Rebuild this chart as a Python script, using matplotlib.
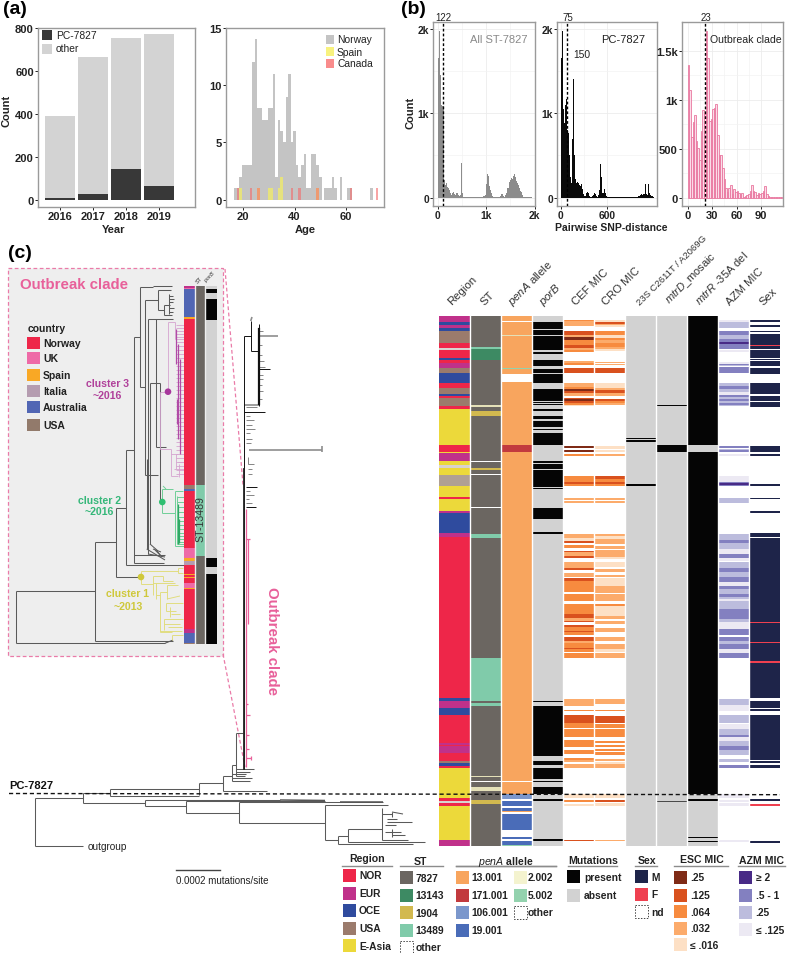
import numpy as np
import matplotlib
matplotlib.use("Agg")
import matplotlib.pyplot as plt
from matplotlib.collections import LineCollection
from matplotlib.colors import ListedColormap
from matplotlib.patches import Rectangle, Circle

plt.rcParams["font.family"] = ["Liberation Sans", "DejaVu Sans"]
plt.rcParams["mathtext.fontset"] = "custom"
plt.rcParams["mathtext.it"] = "Liberation Sans:italic"
plt.rcParams["mathtext.rm"] = "Liberation Sans"

W, H = 787, 954

# panel (a)
years = [2016, 2017, 2018, 2019]
pc_counts = [8, 28, 146, 65]
total_counts = [390, 663, 752, 772]
ages = list(range(17, 73))
norway_age = [1, 1, 2, 3, 3, 3, 3, 12, 14, 8, 8, 7, 7, 8, 8, 11, 2, 7, 6, 5, 9, 11, 5, 6, 3, 2,
              3, 4, 1, 1, 4, 4, 3, 2, 0, 1, 1, 1, 2, 1, 0, 2, 0, 0, 1, 1, 0, 0, 0, 0, 0, 0, 0, 1, 0, 0]
spain_age = {19: 1, 26: 1, 30: 1, 31: 1, 34: 1, 35: 2, 49: 1}
canada_age = {18: 1, 23: 1, 26: 1, 39: 1, 42: 1, 49: 1, 62: 1, 72: 1}

# panel (b)
all_st_hist = [1650, 1970, 1450, 1100, 1090, 1080, 700, 210, 150, 170, 130, 110, 90, 60, 30, 60, 70, 40, 30, 50,
               60, 30, 20, 30, 410, 60, 10, 10, 8, 8, 8, 8, 8, 8, 8, 8, 8, 8, 8, 8,
               8, 8, 8, 8, 8, 8, 10, 15, 20, 30, 160, 280, 260, 140, 90, 60, 20, 10, 8, 8,
               8, 8, 8, 10, 20, 40, 40, 20, 10, 30, 60, 110, 120, 160, 190, 210, 230, 220, 260, 280,
               240, 200, 170, 150, 110, 80, 70, 30, 10, 8, 8, 8, 8, 8, 8, 10, 5]
pc_hist = [1650, 1970, 1420, 1050, 880, 1100, 1170, 800, 760, 500, 250, 170, 700, 1400, 1250, 500, 220, 180, 190, 170,
           150, 140, 160, 100, 40, 20, 20, 30, 60, 70, 50, 20, 10, 10, 20, 30, 50, 40, 20, 10,
           10, 30, 90, 400, 250, 60, 60, 100, 50, 20, 10, 8, 8, 8, 8, 8, 8, 8, 8, 8,
           8, 8, 8, 8, 8, 8, 8, 8, 8, 8, 8, 8, 8, 8, 8, 8, 8, 8, 8, 8,
           8, 8, 10, 12, 15, 20, 30, 40, 30, 40, 50, 40, 160, 40, 30, 160, 60, 30, 20, 15, 8]
outbreak_hist = [1350, 1100, 620, 770, 840, 580, 510, 380, 680, 890, 850, 1700, 1430, 780, 800, 910, 920, 960, 640, 440,
                 440, 300, 190, 100, 60, 100, 130, 40, 90, 60, 70, 50, 40, 50, 10, 20, 30, 40, 70, 130,
                 70, 60, 30, 50, 40, 50, 70, 120, 40, 20, 10, 8, 6, 5, 5, 4, 3, 3]

# panel (c) heatmap, runs of (first row, category)
n_rows = 530
region_runs = [(0, "EUR"), (6, "OCE"), (9, "EUR"), (12, "OCE"), (15, "USA"), (27, "NOR"), (32, "GRY"), (34, "NOR"),
               (42, "OCE"), (44, "NOR"), (47, "EUR"), (52, "USA"), (57, "OCE"), (67, "NOR"), (72, "USA"), (78, "OCE"),
               (80, "NOR"), (82, "USA"), (90, "NOR"), (93, "EAS"), (129, "NOR"), (136, "EAS"), (137, "EUR"),
               (145, "EAS"), (149, "GRY"), (152, "EAS"), (159, "USL"), (170, "EAS"), (181, "NOR"), (183, "EAS"),
               (195, "EUR"), (197, "OCE"), (217, "EUR"), (221, "NOR"), (382, "OCE"), (385, "EUR"), (392, "OCE"),
               (399, "NOR"), (427, "EUR"), (429, "NOR"), (430, "EUR"), (437, "NOR"), (445, "USA"), (447, "OCE"),
               (450, "NOR"), (452, "EAS"), (482, "NOR"), (485, "GRY"), (487, "NOR"), (490, "EAS"), (524, "EUR")]
st_runs = [(0, "7827"), (31, "13489"), (33, "13143"), (44, "7827"), (89, "1904L"), (91, "7827"), (95, "1904"),
           (100, "7827"), (145, "w"), (146, "7827"), (152, "1904"), (154, "7827"), (158, "w"), (159, "7827"),
           (191, "w"), (192, "7827"), (218, "13489"), (222, "7827"), (342, "13489"), (385, "7827"), (387, "13489"),
           (390, "7827"), (460, "1904L"), (461, "7827"), (465, "w"), (466, "7827"), (471, "1904L"), (475, "7827"),
           (484, "1904"), (488, "7827")]
pena_runs = [(0, "13"), (5, "w"), (6, "13"), (19, "1904L"), (20, "13"), (52, "5"), (53, "13"), (58, "w"), (66, "13"),
             (129, "171"), (136, "13"), (465, "w"), (466, "13"), (478, "106"), (483, "w"), (485, "19"), (490, "w"),
             (492, "19"), (495, "13"), (496, "w"), (498, "19"), (514, "w"), (521, "19"), (523, "w"), (525, "19"),
             (529, "5")]
porb_runs = [(0, "abs"), (6, "pre"), (13, "abs"), (14, "pre"), (19, "abs"), (20, "pre"), (34, "abs"), (36, "pre"),
             (38, "abs"), (44, "pre"), (50, "abs"), (53, "pre"), (57, "abs"), (58, "pre"), (67, "abs"), (73, "pre"),
             (85, "abs"), (86, "pre"), (87, "abs"), (88, "pre"), (89, "abs"), (93, "pre"), (95, "abs"), (100, "pre"),
             (103, "abs"), (105, "pre"), (111, "abs"), (113, "pre"), (114, "abs"), (117, "pre"), (129, "abs"),
             (145, "pre"), (147, "abs"), (148, "pre"), (153, "abs"), (154, "pre"), (171, "abs"), (172, "pre"),
             (173, "abs"), (192, "pre"), (203, "abs"), (216, "pre"), (218, "abs"), (385, "pre"), (386, "abs"),
             (390, "pre"), (440, "abs"), (445, "pre"), (449, "abs"), (452, "pre"), (463, "abs"), (465, "pre"),
             (466, "abs"), (471, "pre"), (478, "abs"), (483, "pre"), (485, "abs"), (523, "pre"), (525, "abs")]
cef_runs = [(0, "w"), (4, "c"), (5, "d"), (10, "w"), (15, "b"), (19, "d"), (21, "a"), (24, "c"), (29, "b"), (32, "d"),
            (34, "c"), (36, "w"), (45, "d"), (47, "c"), (49, "w"), (52, "b"), (57, "w"), (67, "d"), (71, "c"), (73, "a"),
            (75, "b"), (77, "d"), (80, "w"), (82, "b"), (83, "a"), (85, "b"), (87, "c"), (89, "e"), (90, "w"),
            (130, "a"), (132, "w"), (134, "a"), (136, "w"), (138, "c"), (140, "w"), (160, "c"), (166, "b"), (168, "c"),
            (170, "w"), (182, "d"), (184, "w"), (185, "d"), (187, "w"), (218, "d"), (222, "e"), (225, "b"), (227, "w"),
            (229, "c"), (232, "w"), (235, "b"), (236, "d"), (240, "b"), (242, "w"), (246, "d"), (252, "b"), (254, "w"),
            (257, "d"), (261, "w"), (262, "b"), (265, "c"), (276, "w"), (278, "c"), (285, "w"), (288, "c"), (298, "b"),
            (302, "d"), (305, "b"), (306, "w"), (309, "b"), (311, "c"), (315, "b"), (316, "c"), (319, "w"), (321, "b"),
            (325, "d"), (327, "c"), (332, "b"), (333, "c"), (336, "w"), (337, "c"), (342, "w"), (383, "d"), (390, "w"),
            (394, "c"), (395, "w"), (399, "b"), (407, "c"), (412, "w"), (413, "c"), (421, "w"), (424, "c"), (431, "w"),
            (434, "c"), (438, "w"), (442, "c"), (444, "d"), (446, "w"), (448, "d"), (452, "w"), (478, "e"), (482, "w"),
            (484, "c"), (486, "w"), (488, "e"), (490, "w"), (524, "b"), (525, "w")]
cro_runs = [(0, "w"), (4, "e"), (6, "b"), (8, "d"), (9, "e"), (11, "w"), (15, "c"), (19, "e"), (22, "c"), (24, "d"),
            (27, "c"), (31, "d"), (33, "e"), (35, "w"), (46, "d"), (47, "w"), (48, "d"), (49, "w"), (52, "b"), (57, "w"),
            (67, "e"), (72, "d"), (74, "b"), (77, "d"), (80, "w"), (83, "b"), (85, "c"), (87, "d"), (89, "w"),
            (130, "e"), (133, "w"), (134, "e"), (136, "w"), (138, "d"), (140, "w"), (160, "b"), (163, "c"), (166, "b"),
            (168, "c"), (170, "w"), (182, "d"), (184, "w"), (185, "d"), (187, "w"), (218, "d"), (220, "e"), (223, "d"),
            (228, "w"), (230, "d"), (233, "w"), (234, "d"), (241, "e"), (243, "w"), (246, "e"), (251, "w"), (253, "d"),
            (256, "w"), (259, "d"), (261, "w"), (262, "e"), (270, "d"), (277, "w"), (278, "d"), (285, "w"), (288, "c"),
            (290, "e"), (300, "d"), (303, "w"), (305, "d"), (308, "w"), (312, "d"), (316, "w"), (321, "d"), (325, "w"),
            (328, "d"), (333, "e"), (336, "w"), (337, "d"), (342, "w"), (383, "d"), (388, "w"), (394, "c"), (395, "w"),
            (400, "b"), (407, "w"), (408, "c"), (412, "w"), (413, "c"), (421, "w"), (425, "c"), (427, "w"), (429, "c"),
            (431, "w"), (433, "c"), (435, "w"), (436, "c"), (439, "w"), (443, "d"), (445, "w"), (446, "e"), (448, "d"),
            (452, "w"), (478, "e"), (482, "w"), (484, "b"), (486, "w"), (487, "e"), (490, "w"), (524, "d"), (525, "w")]
s23_runs = [(0, "abs"), (122, "pre"), (123, "abs"), (124, "pre"), (126, "abs"), (168, "pre"), (170, "abs")]
mtrd_runs = [(0, "abs"), (89, "pre"), (90, "abs"), (129, "pre"), (136, "abs"), (485, "dk"), (486, "abs")]
mtrr_runs = [(0, "pre"), (129, "abs"), (136, "pre"), (478, "abs"), (483, "pre"), (485, "abs"), (521, "pre"), (522, "abs"),
             (525, "pre"), (526, "abs")]
azm_runs = [(0, "w"), (4, "s"), (6, "r"), (12, "w"), (15, "q"), (19, "r"), (23, "q"), (26, "p"), (28, "q"), (33, "w"),
            (34, "s"), (36, "w"), (46, "s"), (48, "q"), (49, "r"), (50, "w"), (51, "q"), (57, "w"), (67, "r"), (70, "q"),
            (73, "r"), (76, "s"), (79, "q"), (81, "r"), (83, "q"), (85, "r"), (87, "q"), (89, "r"), (90, "w"),
            (130, "q"), (132, "w"), (133, "r"), (134, "q"), (136, "w"), (138, "s"), (140, "w"), (160, "s"), (166, "q"),
            (167, "p"), (169, "q"), (170, "w"), (182, "r"), (187, "w"), (218, "r"), (224, "q"), (227, "r"), (233, "s"),
            (238, "q"), (242, "s"), (245, "w"), (246, "r"), (252, "q"), (256, "r"), (261, "q"), (266, "s"), (270, "q"),
            (273, "r"), (278, "q"), (281, "r"), (283, "s"), (285, "r"), (288, "r"), (293, "q"), (303, "r"), (306, "s"),
            (313, "q"), (319, "w"), (321, "q"), (325, "r"), (328, "q"), (333, "s"), (337, "q"), (342, "w"), (383, "r"),
            (389, "s"), (395, "w"), (399, "r"), (407, "w"), (408, "s"), (413, "r"), (419, "q"), (421, "s"), (425, "r"),
            (430, "q"), (434, "r"), (439, "w"), (443, "r"), (446, "w"), (449, "q"), (452, "w"), (478, "s"), (482, "w"),
            (484, "s"), (486, "w"), (487, "s"), (490, "w"), (524, "s"), (526, "w")]
sex_runs = [(0, "w"), (4, "M"), (6, "w"), (9, "M"), (11, "w"), (15, "M"), (16, "w"), (18, "M"), (29, "F"), (30, "M"),
            (33, "w"), (34, "M"), (42, "w"), (43, "M"), (44, "w"), (45, "M"), (50, "w"), (52, "M"), (58, "w"), (67, "M"),
            (78, "w"), (80, "M"), (85, "w"), (86, "M"), (91, "w"), (130, "M"), (136, "w"), (138, "M"), (140, "w"),
            (168, "M"), (170, "w"), (182, "M"), (183, "w"), (195, "M"), (197, "w"), (217, "M"), (221, "w"), (222, "M"),
            (306, "F"), (307, "M"), (326, "F"), (327, "M"), (345, "F"), (347, "M"), (382, "w"), (385, "M"), (392, "w"),
            (393, "M"), (395, "w"), (399, "M"), (444, "w"), (445, "M"), (447, "w"), (449, "M"), (452, "w"), (483, "M"),
            (485, "w"), (488, "F"), (490, "w"), (525, "M"), (527, "w")]
heat_labels = ["Region", "ST", "$\\mathit{penA}$ allele", "$\\mathit{porB}$", "CEF MIC", "CRO MIC",
               "23S C2611T / A2069G", "$\\mathit{mtrD}$_mosaic", "$\\mathit{mtrR}$ -35A del", "AZM MIC", "Sex"]

# outbreak clade inset strips
inset_rows = 358
inset_region_runs = [(0, "EUR"), (2, "UKK"), (3, "AUS"), (31, "SPA"), (33, "NOR"), (199, "USA"), (203, "AUS"), (205, "NOR"),
                     (262, "UKK"), (272, "SPA"), (275, "ITA"), (279, "NOR"), (288, "SPA"), (289, "NOR"), (291, "SPA"),
                     (292, "NOR"), (297, "UKK"), (302, "SPA"), (303, "NOR"), (343, "EUR"), (347, "AUS"), (357, "USA")]
inset_st_runs = [(0, "7827"), (199, "13489"), (270, "7827")]
inset_porb_runs = [(0, "abs"), (3, "pre"), (7, "abs"), (13, "pre"), (34, "abs"), (272, "pre"), (281, "abs"), (288, "pre")]

heat_colors = {"w": "#ffffff", "NOR": "#ee2649", "EUR": "#c0318a", "OCE": "#2f4b9e", "USA": "#9b7b6c", "USL": "#b0a093",
               "GRY": "#d8d2d0", "EAS": "#ecd93a", "UKK": "#ee6aa7", "SPA": "#f9a825", "ITA": "#b59cb0", "AUS": "#5166b4",
               "7827": "#6b6661", "13143": "#3d8a63", "1904": "#d2b94f", "1904L": "#e4e0b8", "13489": "#80cbaa",
               "13": "#f8a55e", "171": "#c23a3e", "106": "#7b97cc", "19": "#4a6cb8", "5": "#93d2ae",
               "pre": "#050505", "abs": "#d2d2d2", "dk": "#4a4a4a",
               "a": "#7f2b16", "b": "#d9511e", "c": "#f78b3f", "d": "#fcab6b", "e": "#fde0c5",
               "p": "#482a86", "q": "#8380c0", "r": "#bcbcdd", "s": "#ece9f3", "M": "#1e2449", "F": "#ef4050"}

# legends below the heatmap
region_legend = [("NOR", "#ee2649"), ("EUR", "#c0318a"), ("OCE", "#2f4b9e"), ("USA", "#9b7b6c"), ("E-Asia", "#ecd93a")]
st_legend = [("7827", "#6b6661"), ("13143", "#3d8a63"), ("1904", "#d2b94f"), ("13489", "#80cbaa"), ("other", None)]
pena_legend1 = [("13.001", "#f8a55e"), ("171.001", "#c23a3e"), ("106.001", "#7b97cc"), ("19.001", "#4a6cb8")]
pena_legend2 = [("2.002", "#f4f3cf"), ("5.002", "#93d2ae"), ("other", None)]
mut_legend = [("present", "#050505"), ("absent", "#d2d2d2")]
sex_legend = [("M", "#1e2449"), ("F", "#ef4050"), ("nd", None)]
esc_legend = [(".25", "#7f2b16"), (".125", "#d9511e"), (".064", "#f78b3f"), (".032", "#fcab6b"), ("\u2264 .016", "#fde0c5")]
azm_legend = [("\u2265 2", "#482a86"), (".5 - 1", "#8380c0"), (".25", "#bcbcdd"), ("\u2264 .125", "#ece9f3")]
country_legend = [("Norway", "#ee2649"), ("UK", "#ee6aa7"), ("Spain", "#f9a825"), ("Italia", "#b59cb0"),
                  ("Australia", "#5166b4"), ("USA", "#927a6b")]

# tree branches, (x0, y0, x1, y1)
backbone = [(35.3, 799, 35.3, 847.3), (35.3, 847.3, 83, 847.3), (35.3, 799, 83.3, 799), (83.3, 794, 83.3, 804.3),
            (83.3, 794, 110, 794), (110, 789.7, 110, 797), (110, 789.7, 199.3, 789.7), (110, 797, 199, 797),
            (199.3, 784.3, 199.3, 796), (199.3, 784.3, 223.3, 784.3), (223.3, 777, 223.3, 792.3),
            (223.3, 792.3, 267, 792.3), (223.3, 777, 232, 777), (232, 766.3, 232, 782), (232, 766.3, 236, 766.3),
            (236, 733.7, 236, 777), (236, 733.7, 243, 733.7), (232, 782, 250, 782), (232, 775, 246, 775),
            (236, 770, 254, 770), (236, 773, 250, 773), (236, 777, 245, 777), (232, 779, 252, 779),
            (83.3, 804.3, 145.3, 804.3), (145.3, 801, 145.3, 807), (145.3, 801, 280, 801), (145.3, 807, 186, 807),
            (186, 802, 186, 813.7), (186, 802, 325, 802), (186, 813.7, 238.7, 813.7), (238.7, 803, 238.7, 823.7),
            (238.7, 803, 383, 803), (238.7, 823.7, 325, 823.7), (325, 806, 325, 840.7), (325, 806, 388, 806),
            (325, 840.7, 338, 840.7), (338, 836.7, 338, 845.3), (338, 845.3, 412.7, 845.3), (338, 836.7, 348, 836.7),
            (348, 829.7, 348, 843), (348, 843, 425, 843), (348, 829.7, 382, 829.7), (382, 809, 382, 841),
            (382, 841, 408, 841), (382, 815, 392, 815), (392, 813, 392, 818), (392, 813, 403, 815), (387, 820, 397, 820),
            (387, 823, 412, 823), (385, 833, 401, 833), (392, 830, 392, 838), (392, 836, 405, 836), (385, 826, 396, 826),
            (15.7, 591.7, 15.7, 644.3), (15.7, 644.3, 165, 644.3), (165, 644.3, 173, 641), (15.7, 591.7, 95, 591.7),
            (95, 543, 95, 641.7), (95, 641.7, 173, 641.7), (95, 543, 115.7, 543), (115.7, 509.3, 115.7, 578.3),
            (115.7, 578.3, 141, 578.3), (115.7, 509.3, 125.7, 509.3), (125.7, 451, 125.7, 566), (125.7, 566, 184, 566),
            (125.7, 451, 134.3, 451), (134.3, 338.3, 134.3, 564), (134.3, 564, 164, 564), (134.3, 338.3, 140, 338.3),
            (140, 288, 140, 388), (140, 288, 153, 288), (153, 287, 172, 287), (140, 388, 145, 388), (145, 301, 145, 476),
            (145, 301, 158, 301), (158, 291, 158, 311), (158, 291, 171, 291), (158, 311, 164, 311), (164, 306, 164, 316),
            (164, 306, 170, 306), (164, 316, 172, 316), (169, 295, 169, 315), (169, 297, 173, 297), (169, 300, 174, 300),
            (169, 303, 173, 303), (169, 309, 174, 309), (169, 313, 173, 313), (145, 476, 158, 476),
            (148, 320, 173, 320), (148, 320, 148, 555), (155.7, 320, 155.7, 448), (155.7, 448, 166, 448),
            (150, 384, 150, 545), (150, 384, 160, 384), (160, 384, 160, 503), (146.7, 460, 146.7, 550),
            (150, 545, 158, 552), (146.7, 550, 165, 561), (134.3, 556, 165, 556), (148, 555, 165, 558),
            (153, 550, 161, 553), (155, 551, 160, 556), (157, 552, 162, 558)]
main_black = [(244, 337, 244, 770), (244, 337, 250.7, 337), (250.7, 322, 250.7, 352), (250.7, 352, 259, 352),
              (259, 325, 259, 407), (259, 370, 270, 370), (244, 413, 265, 413), (246, 488, 257, 488), (246, 508, 256, 508)]
main_tips = [(246, 408, 257, 408), (246, 417, 250, 417), (246, 421, 254, 421), (246, 426, 252, 426), (246, 430, 255, 430),
             (246, 434, 250, 434), (246, 440, 252, 440), (246, 444, 251, 444), (248, 458, 248, 465), (248, 465, 254, 465),
             (248, 470, 252, 470), (248, 475, 252, 475), (246, 492, 250, 492), (246, 496, 254, 496), (246, 500, 249, 500),
             (246, 504, 252, 504), (259, 332, 263, 332), (259, 346, 262, 346), (259, 356, 262, 356), (259, 362, 264, 362),
             (259, 368, 265, 368), (259, 376, 263, 376), (259, 380, 263, 380), (259, 386, 262, 386), (259, 392, 263, 392),
             (259, 400, 262, 400)]
main_grey = [(259, 337, 278, 337), (249, 451, 322, 451), (322, 447, 322, 453), (244, 406, 259, 406), (250.7, 322, 252, 318)]
cluster3 = [(160, 393, 160, 450), (160, 393, 168, 393), (160, 450, 171, 450), (168, 323, 168, 393), (168, 323, 175, 323),
            (171, 450, 171, 477), (171, 477, 178, 477), (175, 323, 175, 340), (175, 340, 184, 340),
            (171, 455, 178, 455), (176, 455, 176, 470), (174, 470, 184, 470), (178, 463, 184, 463), (179, 465, 179, 478)]
cluster3_spine = [(176, 330, 176, 365), (178, 345, 178, 440), (180, 360, 180, 455), (177, 400, 177, 425)]
cluster3_tip_y = [326, 329, 332, 335, 338, 343, 347, 351, 355, 359, 363, 367, 371, 375, 379, 383, 387, 391, 395,
                  399, 403, 407, 411, 415, 419, 423, 427, 431, 435, 439, 443, 447, 451, 455, 459, 463, 467, 471, 475]
cluster2 = [(161.7, 490, 161.7, 514), (161.7, 490, 173, 490), (161.7, 514, 175, 514), (175, 492, 175, 547),
            (175, 492, 183, 492), (177, 497, 177, 545), (175, 547, 184, 547), (163, 487, 166, 490)]
cluster2_tip_y = [498, 503, 508, 513, 518, 522, 526, 530, 534, 537, 540, 543, 545]
cluster1 = [(141, 571.7, 141, 585), (141, 571.7, 178, 571.7), (178, 569, 178, 574), (178, 569, 183, 569), (178, 574, 183, 574),
            (141, 585, 153.3, 585), (153.3, 577, 153.3, 596), (153.3, 577, 163, 577), (163, 577, 163, 582),
            (163, 582, 173, 582), (153.3, 584, 175, 584), (156, 584, 156, 600), (156, 596, 160, 596),
            (160, 593, 160, 633), (160, 593, 167, 593), (167, 586, 167, 600), (167, 586, 178, 586), (167, 600, 180, 597),
            (160, 633, 172, 633), (166, 604, 183, 604), (166, 604, 166, 612), (166, 612, 176, 612), (170, 608, 170, 618),
            (164, 620, 183, 620), (164, 620, 164, 631), (164, 625, 180, 625), (168, 628, 182, 628), (172, 636, 172, 641),
            (172, 636, 183, 636), (171, 615, 180, 615), (160, 632, 182, 632)]
pink_tree = [(245.7, 510, 245.7, 768), (248, 540, 248, 625), (246, 716, 250, 716), (246, 736, 249, 736), (246, 759, 251, 759),
             (251, 757, 251, 761), (246, 540, 250, 540), (246, 705, 248, 705), (246, 750, 249, 750)]


def expand(runs, total):
    # runs of (first row, category) to one category per row
    out = []
    for i, (start, code) in enumerate(runs):
        end = runs[i + 1][0] if i + 1 < len(runs) else total
        out += [code] * (end - start)
    return out


def px_axes(x0, y0, x1, y1, **kw):
    return fig.add_axes([x0 / W, 1 - y1 / H, (x1 - x0) / W, (y1 - y0) / H], **kw)


def draw_heat(ax, columns, total, gap_color):
    keys = list(heat_colors)
    cmap = ListedColormap([heat_colors[k] for k in keys])
    mat = np.array([[keys.index(c) for c in expand(col, total)] for col in columns]).T
    ax.imshow(mat, cmap=cmap, vmin=-0.5, vmax=len(keys) - 0.5, aspect="auto", interpolation="nearest")
    for i in range(1, len(columns)):
        ax.axvline(i - 0.5, color=gap_color, lw=1)
    ax.axis("off")


def style_axes(ax):
    for side in ax.spines:
        ax.spines[side].set_color("#9a9a9a")
        ax.spines[side].set_linewidth(1)
    ax.tick_params(colors="#222222", length=2, width=0.7, pad=1)
    for lab in ax.get_xticklabels() + ax.get_yticklabels():
        lab.set_fontweight("bold")


fig = plt.figure(figsize=(W / 100, H / 100), dpi=100)

under = fig.add_axes([0, 0, 1, 1], zorder=0)
under.set_xlim(0, W)
under.set_ylim(H, 0)
under.axis("off")

top = fig.add_axes([0, 0, 1, 1], zorder=6)
top.set_xlim(0, W)
top.set_ylim(H, 0)
top.axis("off")
top.patch.set_alpha(0)


def t(x, y, s, size=7.4, weight="normal", color="#222222", ha="left", va="center", rot=0, **kw):
    top.text(x, y, s, fontsize=size, fontweight=weight, color=color, ha=ha, va=va, rotation=rot, **kw)


def swatch(x, y, s, color, text_x, w=13, h=13, size=7.4, weight="normal"):
    if color is None:
        top.add_patch(Rectangle((x, y - h / 2), w, h, fc="none", ec="#444444", lw=0.7, ls=(0, (1.5, 1.5))))
    else:
        top.add_patch(Rectangle((x, y - h / 2), w, h, fc=color, ec="none"))
    t(text_x, y, s, size=size, weight=weight)


# (a) bars
ax = px_axes(38, 29, 195, 208, zorder=2)
other_counts = [a - b for a, b in zip(total_counts, pc_counts)]
ax.bar(years, pc_counts, width=0.91, color="#383838")
ax.bar(years, other_counts, width=0.91, bottom=pc_counts, color="#d3d3d3")
ax.set_xlim(2015.33, 2020.09)
ax.set_ylim(-33, 800)
ax.set_xticks(years)
ax.set_yticks([0, 200, 400, 600, 800])
ax.tick_params(labelsize=8)
style_axes(ax)

# (a) ages
ax = px_axes(226, 29, 384, 208, zorder=2)
ax.bar(ages, norway_age, width=1, color="#c4c4c4")
ax.bar(list(spain_age), list(spain_age.values()), width=1, color="#f5ef60", alpha=0.7)
ax.bar(list(canada_age), list(canada_age.values()), width=1, color="#f46a6a", alpha=0.6)
ax.set_xlim(13.3, 74.8)
ax.set_ylim(-0.65, 15)
ax.set_xticks([20, 40, 60])
ax.set_yticks([0, 5, 10, 15])
ax.tick_params(labelsize=8)
style_axes(ax)

swatch(42, 36, "PC-7827", "#383838", 56, w=10, h=10)
swatch(42, 49.5, "other", "#d3d3d3", 56, w=10, h=10)
swatch(326, 40, "Norway", "#c4c4c4", 337, w=8, h=9)
swatch(326, 52.5, "Spain", "#f8f27e", 337, w=8, h=9)
swatch(326, 64, "Canada", "#f98c8c", 337, w=8, h=9)
t(114, 230, "Year", size=8, weight="bold", ha="center")
t(305, 230, "Age", size=8, weight="bold", ha="center")
t(6, 111, "Count", size=8, weight="bold", ha="center", rot=90)
t(3, 10, "(a)", size=14, weight="bold", color="black")
t(401, 10, "(b)", size=14, weight="bold", color="black")
t(8, 253, "(c)", size=14, weight="bold", color="black")


# (b) distance histograms
def snp_axes(box, values, bin_w, color, xlim, ylim, xticks, xlabels, yticks, ylabels, cut, size=7.4, edge=None):
    a = px_axes(*box, zorder=2)
    a.set_axisbelow(True)
    a.grid(True, which="major", color="#ececec", lw=0.6)
    a.grid(True, which="minor", color="#f3f3f3", lw=0.5)
    centers = [bin_w * i + bin_w / 2 for i in range(len(values))]
    if edge is None:
        a.bar(centers, values, width=bin_w, color=color, lw=0)
    else:
        a.bar(centers, values, width=bin_w, facecolor=color, edgecolor=edge, lw=0.6)
    a.axvline(cut, color="black", lw=1, ls=(0, (2, 1.5)), zorder=4)
    a.set_xlim(*xlim)
    a.set_ylim(*ylim)
    a.set_xticks(xticks, xlabels)
    a.set_yticks(yticks, ylabels)
    a.set_yticks([(yticks[i] + yticks[i + 1]) / 2 for i in range(len(yticks) - 1)], minor=True)
    a.set_xticks([(xticks[i] + xticks[i + 1]) / 2 for i in range(len(xticks) - 1)], minor=True)
    a.tick_params(labelsize=size)
    a.tick_params(which="minor", length=0)
    style_axes(a)
    return a


snp_axes((433, 22.7, 535, 207), all_st_hist, 20, "#8c8c8c", (-97, 2006), (-98, 2083), [0, 1000, 2000],
         ["0", "1k", "2k"], [0, 1000, 2000], ["0", "1k", "2k"], 110)
snp_axes((557, 22.7, 657, 207), pc_hist, 12, "#0a0a0a", (-48, 1255), (-98, 2083), [0, 600], ["0", "600"],
         [0, 1000, 2000], ["0", "1k", "2k"], 82)
snp_axes((682, 22.7, 783, 207), outbreak_hist, 2, "#fbdce8", (-7, 117), (-85, 1796), [0, 30, 60, 90],
         ["0", "30", "60", "90"], [0, 500, 1000, 1500], ["0", "500", "1k", "1.5k"], 21.7, size=8, edge="#e9779f")
t(443, 18, "122", size=7, ha="center")
t(568, 18, "75", size=7, ha="center")
t(582, 54.5, "150", size=7.4, ha="center")
t(705.7, 18, "23", size=7, ha="center")
t(527, 40, "All ST-7827", size=8, color="#8a8a8a", ha="right")
t(645, 40, "PC-7827", size=8, ha="right")
t(782, 40, "Outbreak clade", size=7.6, ha="right")
t(611, 228, "Pairwise SNP-distance", size=7.5, weight="bold", ha="center")
t(410, 113, "Count", size=8, weight="bold", ha="center", rot=90)

# (c) tree and inset background
under.add_patch(Rectangle((8, 269), 215, 388, fc="#eeeeee", ec="#ea7ba8", lw=0.9, ls=(0, (3, 2))))
under.plot([225, 243], [270, 486], color="#ea7ba8", lw=0.9, ls=(0, (3, 2)))
under.plot([223, 245], [655, 768], color="#ea7ba8", lw=0.9, ls=(0, (3, 2)))


def branches(segs, color, lw):
    under.add_collection(LineCollection([[(a, b), (c, d)] for a, b, c, d in segs], colors=color, linewidths=lw))


def tips(ys, x0, x1):
    return [(x0, y, x1, y) for y in ys]


branches(backbone, "#5a5a5a", 0.75)
branches(main_grey, "#8d8d8d", 1.2)
branches(main_black, "#111111", 0.7)
branches(main_tips, "#555555", 0.5)
under.plot([244, 244], [470, 770], color="#222222", lw=1.3)
under.plot([259, 259], [330, 405], color="#111111", lw=1.6)
branches([(280, 801, 325, 801.5), (340, 803, 383, 803)], "#555555", 1.1)
branches(pink_tree, "#e8609a", 0.9)
branches(cluster3 + tips(cluster3_tip_y, 176, 184), "#d5a3d0", 0.6)
branches(cluster3_spine, "#b04aa6", 0.9)
branches(cluster2 + tips(cluster2_tip_y, 177, 184), "#6fcf97", 0.7)
branches([(178, 505, 178, 545), (179, 520, 179, 544)], "#2fa865", 0.9)
branches(cluster1, "#e0dc78", 0.65)
under.add_patch(Circle((168, 392.7), 3.3, fc="#a7379c", ec="none", zorder=4))
under.add_patch(Circle((162.3, 503), 3.3, fc="#2fbf71", ec="none", zorder=4))
under.add_patch(Circle((141, 578), 3.3, fc="#cfc83a", ec="none", zorder=4))
under.plot([176, 220], [871, 871], color="#444444", lw=1)

# (c) main heatmap
ax = px_axes(439, 317, 780, 847, zorder=3)
draw_heat(ax, [region_runs, st_runs, pena_runs, porb_runs, cef_runs, cro_runs, s23_runs, mtrd_runs, mtrr_runs,
               azm_runs, sex_runs], n_rows, "white")

# (c) inset strips
ax = px_axes(184, 287, 216, 645, zorder=3)
draw_heat(ax, [inset_region_runs, inset_st_runs, inset_porb_runs], inset_rows, "#eeeeee")

# heatmap headers
label_x = [453, 486, 515, 546, 577, 607, 641, 672, 701, 731, 765]
label_y = [307, 307, 309, 309, 307, 307, 307, 307, 307, 307, 307]
label_size = [8.2, 8.2, 8.2, 8.2, 8.2, 8.2, 6.8, 8, 8, 8.2, 8.2]
for x, y, s, fs in zip(label_x, label_y, heat_labels, label_size):
    top.text(x, y, s, fontsize=fs, rotation=45, ha="left", va="bottom", rotation_mode="anchor", color="#333333")
top.text(199, 285, "ST", fontsize=4, rotation=45, ha="left", va="bottom", rotation_mode="anchor", color="#333333")
top.text(208, 285, "$\\mathit{porB}$", fontsize=4, rotation=45, ha="left", va="bottom", rotation_mode="anchor", color="#333333")
t(200, 519, "ST-13489", size=7.6, color="#333333", ha="center", rot=90)

# annotations
t(20.5, 285, "Outbreak clade", size=10.8, weight="bold", color="#e8609a")
t(272, 641, "Outbreak clade", size=10.8, weight="bold", color="#e8609a", ha="center", rot=270)
t(28, 329, "country", size=7.5, weight="bold")
for (name, col), y in zip(country_legend, [344, 359, 376, 392, 408, 425.7]):
    swatch(27, y, name, col, 43, w=13, h=12, size=7.5, weight="bold")
t(107, 384, "cluster 3", size=7.6, weight="bold", color="#b0409a", ha="center")
t(107, 396, "~2016", size=7.6, weight="bold", color="#b0409a", ha="center")
t(99, 500.7, "cluster 2", size=7.6, weight="bold", color="#35b779", ha="center")
t(99, 512.5, "~2016", size=7.6, weight="bold", color="#35b779", ha="center")
t(128, 594, "cluster 1", size=7.6, weight="bold", color="#cfc83a", ha="center")
t(128, 607, "~2013", size=7.6, weight="bold", color="#cfc83a", ha="center")
top.plot([9, 780], [794.5, 795.7], color="#111111", lw=1, ls=(0, (3, 2)))
t(9, 786, "PC-7827", size=8, weight="bold", color="#111111")
t(87.7, 846.7, "outgroup", size=7.2)
t(176, 881, "0.0002 mutations/site", size=7)


# bottom legends
def legend_block(title, title_x, title_y, x0, x1, rule_y, rows, ys, patch_x, text_x):
    t(title_x, title_y, title, size=7.6, weight="bold", ha="center")
    top.plot([x0, x1], [rule_y, rule_y], color="#8c8c8c", lw=1)
    for (name, col), y in zip(rows, ys):
        swatch(patch_x, y, name, col, text_x, weight="bold", size=7.4)


legend_block("Region", 366.7, 859.3, 342, 392, 866.7, region_legend, [876, 894, 911, 929, 946.7], 343, 359)
legend_block("ST", 420, 862.3, 400, 442.7, 867.3, st_legend, [878.7, 896, 913.7, 931, 948.3], 400, 415.7)
legend_block("$\\mathit{penA}$ allele", 506, 861.7, 456, 556, 867.3, pena_legend1, [878.3, 896, 913.3, 931], 456, 471)
legend_block("", 506, 861.7, 456, 556, 867.3, pena_legend2, [878.3, 896, 913.3], 514, 528)
legend_block("Mutations", 592.7, 861, 567.7, 617, 867.3, mut_legend, [877.7, 896], 567, 584)
legend_block("Sex", 647, 861, 635, 657.3, 867.3, sex_legend, [877.7, 895, 912.7], 635, 651.7)
legend_block("ESC MIC", 701.7, 860, 674.3, 728.3, 867.3, esc_legend, [878, 896, 912.7, 929, 945.7], 674, 690)
legend_block("AZM MIC", 761.7, 861, 738.3, 785, 867.3, azm_legend, [878.3, 896, 913.3, 930.7], 739, 755.7)

fig.savefig("out.png", dpi=100)
